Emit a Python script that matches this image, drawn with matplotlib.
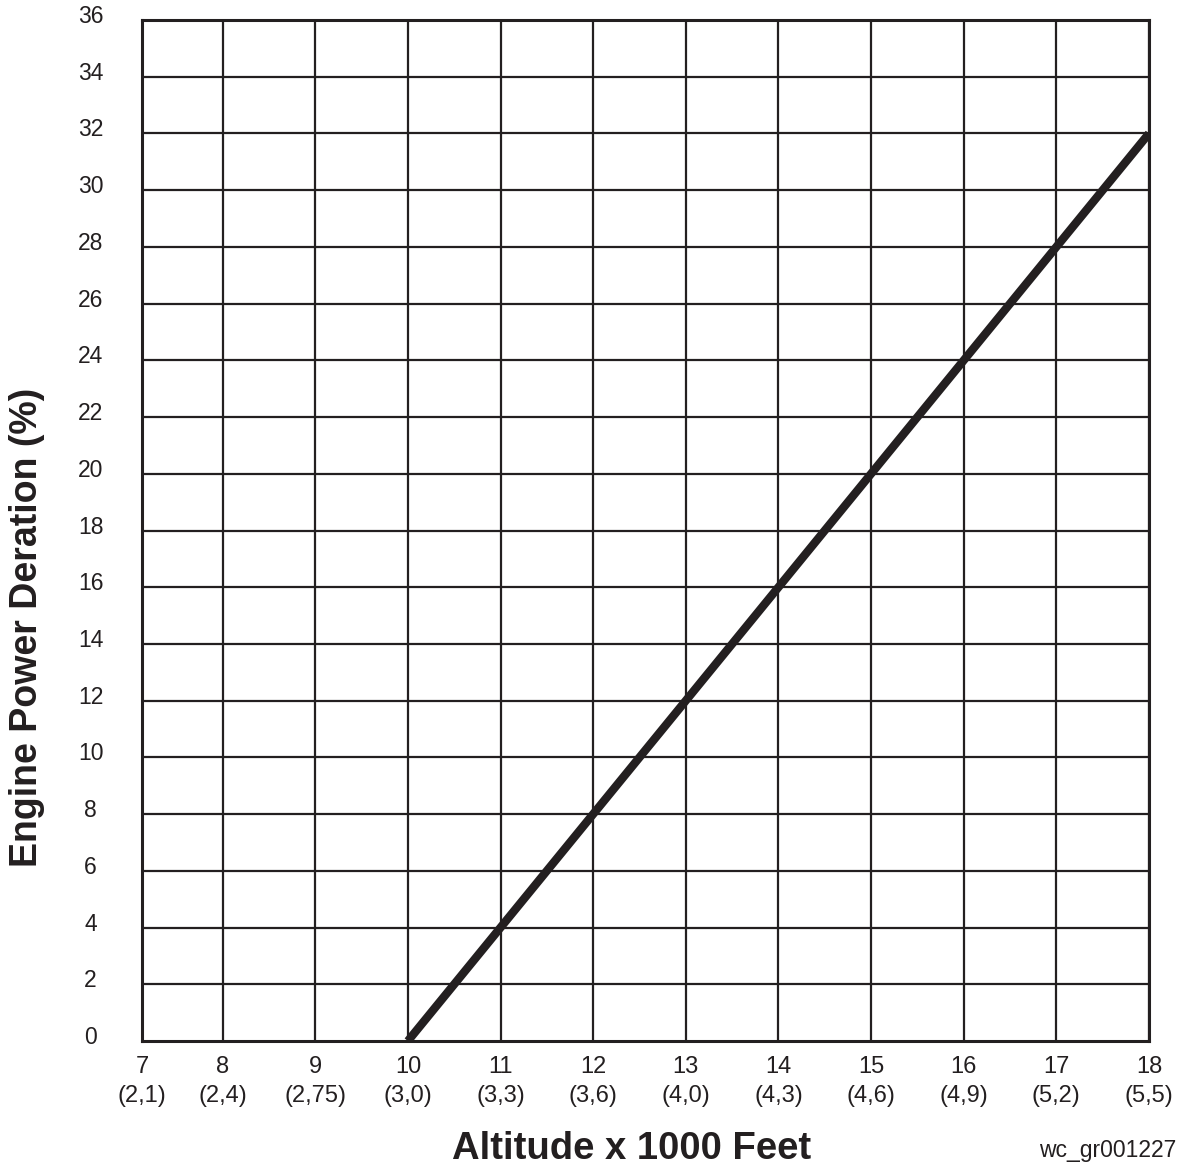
import matplotlib
matplotlib.use('Agg')
import matplotlib.pyplot as plt
from matplotlib.transforms import ScaledTranslation

plt.rcParams['font.family'] = ['Liberation Sans', 'DejaVu Sans']

# altitude (x1000 ft) and power deration (%)
altitude = [10, 18]
deration = [0, 32]

x_ticks = [8, 9, 10, 11, 12, 13, 14, 15, 16, 17, 18]
x_feet = ['7', '8', '9', '10', '11', '12', '13', '14', '15', '16', '17', '18']
x_km = ['(2,1)', '(2,4)', '(2,75)', '(3,0)', '(3,3)', '(3,6)', '(4,0)',
        '(4,3)', '(4,6)', '(4,9)', '(5,2)', '(5,5)']
y_ticks = list(range(0, 37, 2))

ink = '#231f20'
x_left = 7.13  # left edge of the printed chart, labelled "7"

fig = plt.figure(figsize=(11.85, 11.71), dpi=100)
ax = fig.add_axes([142 / 1185, 1 - 1041 / 1171, 1007 / 1185, 1021 / 1171])

ax.set_xlim(x_left, 18)
ax.set_ylim(0, 36)

for x in x_ticks:
    ax.axvline(x, color=ink, lw=1.6, zorder=1)
for y in y_ticks[1:-1]:
    ax.axhline(y, color=ink, lw=1.6, zorder=1)

ax.plot(altitude, deration, color=ink, lw=6, solid_capstyle='butt', zorder=3)

for s in ax.spines.values():
    s.set_color(ink)
    s.set_linewidth(2.2)

ax.set_xticks([x_left] + x_ticks)
ax.set_xticklabels([f'{a}\n{b}' for a, b in zip(x_feet, x_km)],
                   fontsize=17, color=ink, linespacing=1.4)
ax.set_yticks(y_ticks)
ax.set_yticklabels([str(v) for v in y_ticks], fontsize=16.5, color=ink)
ax.tick_params(axis='x', length=0, pad=11)
ax.tick_params(axis='y', length=0, pad=37)
for lab in ax.get_yticklabels():
    lab.set_horizontalalignment('center')
    lab.set_transform(lab.get_transform() + ScaledTranslation(0, 0.06, fig.dpi_scale_trans))

fig.text(632 / 1185, 1 - 1149 / 1171, 'Altitude x 1000 Feet', fontsize=27.5,
         fontweight='bold', color=ink, ha='center', va='center')
fig.text(27 / 1185, 1 - 627 / 1171, 'Engine Power Deration (%)', fontsize=27,
         fontweight='bold', color=ink, ha='center', va='center', rotation=90)
fig.text(1176 / 1185, 1 - 1151 / 1171, 'wc_gr001227', fontsize=16.5,
         color=ink, ha='right', va='center')

fig.savefig('out.png', dpi=100)
